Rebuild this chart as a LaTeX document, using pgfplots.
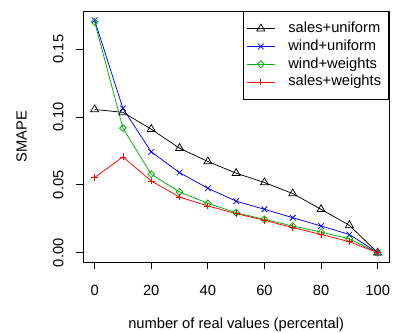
\documentclass[border=0pt]{standalone}
\usepackage{pgfplots}
\pgfplotsset{compat=1.18}
\usepackage{fontspec}
\setmainfont{Liberation Sans}
\definecolor{rgreen}{RGB}{0,170,0}
\definecolor{rblue}{RGB}{0,0,255}
\definecolor{rred}{RGB}{255,0,0}
\begin{document}
\fontsize{14.7bp}{17.6bp}\selectfont
\begin{tikzpicture}
\path[use as bounding box] (0,0) rectangle (396bp,-333bp);
\begin{axis}[
  at={(83.3bp,-262bp)}, anchor=south west,
  scale only axis, width=305.7bp, height=251bp,
  xmin=-4, xmax=104, ymin=-0.0068, ymax=0.178,
  axis line style={line width=0.75bp, black},
  every tick/.style={line width=0.75bp, black},
  tick align=outside, major tick length=7.3bp,
  xtick pos=left, ytick pos=left,
  xtick={0,20,40,60,80,100},
  ytick={0,0.05,0.10,0.15},
  /pgf/number format/assume math mode=true,
  yticklabel style={/pgf/number format/fixed, /pgf/number format/fixed zerofill, /pgf/number format/precision=2, rotate=90, anchor=base},
  scaled y ticks=false,
  xticklabel style={anchor=base, yshift=-26bp},
  yticklabel shift=12.7bp,
  tick label style={font=\fontsize{14.7bp}{17.6bp}\selectfont},
  label style={font=\fontsize{14.7bp}{17.6bp}\selectfont},
  xlabel={number of real values (percental)},
  ylabel={SMAPE},
  xlabel style={at={(axis description cs:0.5,-0.264)}, anchor=base},
  ylabel style={at={(axis description cs:-0.185,0.5)}, anchor=base},
  every axis plot/.append style={line width=0.75bp},
  legend cell align=left,
  legend image code/.code={\draw[mark repeat=2,mark phase=2] plot coordinates {(0bp,0bp) (13.85bp,0bp) (27.7bp,0bp)};},
  legend style={at={(1,1)}, anchor=north east, draw=black, line width=0.75bp,
    font=\fontsize{14.7bp}{17.6bp}\selectfont,
    inner xsep=3.5bp, inner ysep=8.4bp, row sep=0pt, column sep=0pt,
    nodes={inner xsep=4bp, inner ysep=2bp, text height=10.7bp, text depth=3.1bp},
    /tikz/every odd column/.style={column sep=9.3bp},
    /tikz/every even column/.style={column sep=0bp}},
]
\addplot[black, mark=triangle, mark size=4.6bp, mark options={solid}] coordinates {
(0,0.1055) (10,0.1034) (20,0.0910) (30,0.0770) (40,0.0672) (50,0.0586) (60,0.0517) (70,0.0436) (80,0.0320) (90,0.0202) (100,0.0)};
\addlegendentry{sales+uniform}
\addplot[rblue, mark=x, mark size=4bp] coordinates {
(0,0.1712) (10,0.1063) (20,0.0743) (30,0.0590) (40,0.0475) (50,0.0380) (60,0.0320) (70,0.0258) (80,0.0197) (90,0.0135) (100,0.0)};
\addlegendentry{wind+uniform}
\addplot[rgreen, mark=diamond, mark size=3.4bp, mark options={xscale=1.333}] coordinates {
(0,0.1700) (10,0.0918) (20,0.0578) (30,0.0448) (40,0.0364) (50,0.0295) (60,0.0246) (70,0.0197) (80,0.0152) (90,0.0103) (100,0.0)};
\addlegendentry{wind+weights}
\addplot[rred, mark=+, mark size=3.4bp] coordinates {
(0,0.0554) (10,0.0706) (20,0.0529) (30,0.0410) (40,0.0345) (50,0.0288) (60,0.0239) (70,0.0185) (80,0.0135) (90,0.0081) (100,0.0)};
\addlegendentry{sales+weights}
\end{axis}
\end{tikzpicture}
\end{document}
